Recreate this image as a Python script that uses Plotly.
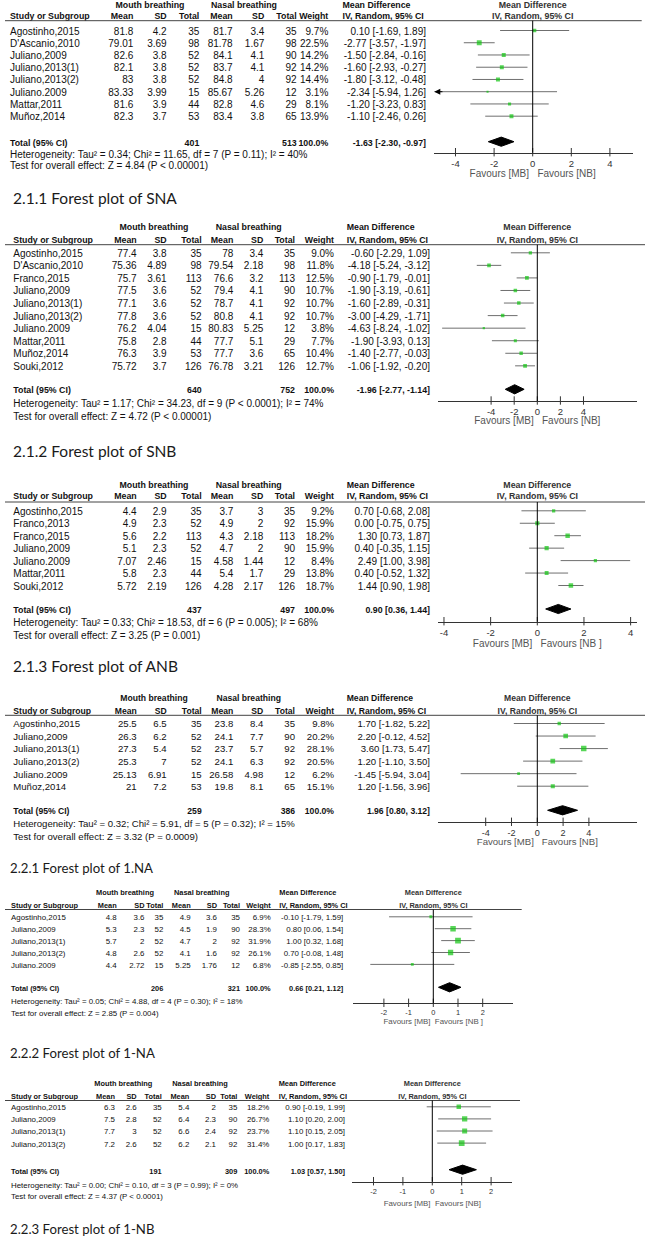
import math
import plotly.graph_objects as go

W, H = 649, 1240

# ---------------- DATA ----------------
# 2.1.1 SNA
SNA_STUDY = ["Agostinho,2015", "D'Ascanio,2010", "Juliano,2009", "Juliano,2013(1)", "Juliano,2013(2)",
             "Juliano.2009", "Mattar,2011", "Muñoz,2014"]
SNA_MB_MEAN = [81.8, 79.01, 82.6, 82.1, 83, 83.33, 81.6, 82.3]
SNA_MB_SD = [4.2, 3.69, 3.8, 3.8, 3.8, 3.99, 3.9, 3.7]
SNA_MB_N = [35, 98, 52, 52, 52, 15, 44, 53]
SNA_NB_MEAN = [81.7, 81.78, 84.1, 83.7, 84.8, 85.67, 82.8, 83.4]
SNA_NB_SD = [3.4, 1.67, 4.1, 4.1, 4, 5.26, 4.6, 3.8]
SNA_NB_N = [35, 98, 90, 92, 92, 12, 29, 65]
SNA_WEIGHT = [9.7, 22.5, 14.2, 14.2, 14.4, 3.1, 8.1, 13.9]
SNA_MD = [0.10, -2.77, -1.50, -1.60, -1.80, -2.34, -1.20, -1.10]
SNA_LO = [-1.69, -3.57, -2.84, -2.93, -3.12, -5.94, -3.23, -2.46]
SNA_HI = [1.89, -1.97, -0.16, -0.27, -0.48, 1.26, 0.83, 0.26]
SNA_TOTAL_N = [401, 513]
SNA_TOTAL_MD = [-1.63, -2.30, -0.97]
SNA_HET = "Heterogeneity: Tau² = 0.34; Chi² = 11.65, df = 7 (P = 0.11); I² = 40%"
SNA_TEST = "Test for overall effect: Z = 4.84 (P < 0.00001)"
SNA_TICKS = [-4, -2, 0, 2, 4]
SNA_FAV = "Favours [MB]   Favours [NB]"
SNA_TITLE = "2.1.1 Forest plot of SNA"

# 2.1.2 SNB
SNB_STUDY = ["Agostinho,2015", "D'Ascanio,2010", "Franco,2015", "Juliano,2009", "Juliano,2013(1)",
             "Juliano,2013(2)", "Juliano.2009", "Mattar,2011", "Muñoz,2014", "Souki,2012"]
SNB_MB_MEAN = [77.4, 75.36, 75.7, 77.5, 77.1, 77.8, 76.2, 75.8, 76.3, 75.72]
SNB_MB_SD = [3.8, 4.89, 3.61, 3.6, 3.6, 3.6, 4.04, 2.8, 3.9, 3.7]
SNB_MB_N = [35, 98, 113, 52, 52, 52, 15, 44, 53, 126]
SNB_NB_MEAN = [78, 79.54, 76.6, 79.4, 78.7, 80.8, 80.83, 77.7, 77.7, 76.78]
SNB_NB_SD = [3.4, 2.18, 3.2, 4.1, 4.1, 4.1, 5.25, 5.1, 3.6, 3.21]
SNB_NB_N = [35, 98, 113, 90, 92, 92, 12, 29, 65, 126]
SNB_WEIGHT = [9.0, 11.8, 12.5, 10.7, 10.7, 10.7, 3.8, 7.7, 10.4, 12.7]
SNB_MD = [-0.60, -4.18, -0.90, -1.90, -1.60, -3.00, -4.63, -1.90, -1.40, -1.06]
SNB_LO = [-2.29, -5.24, -1.79, -3.19, -2.89, -4.29, -8.24, -3.93, -2.77, -1.92]
SNB_HI = [1.09, -3.12, -0.01, -0.61, -0.31, -1.71, -1.02, 0.13, -0.03, -0.20]
SNB_TOTAL_N = [640, 752]
SNB_TOTAL_MD = [-1.96, -2.77, -1.14]
SNB_HET = "Heterogeneity: Tau² = 1.17; Chi² = 34.23, df = 9 (P < 0.0001); I² = 74%"
SNB_TEST = "Test for overall effect: Z = 4.72 (P < 0.00001)"
SNB_TICKS = [-4, -2, 0, 2, 4]
SNB_FAV = "Favours [MB]   Favours [NB]"
SNB_TITLE = "2.1.2 Forest plot of SNB"

# 2.1.3 ANB
ANB_STUDY = ["Agostinho,2015", "Franco,2013", "Franco,2015", "Juliano,2009", "Juliano.2009",
             "Mattar,2011", "Souki,2012"]
ANB_MB_MEAN = [4.4, 4.9, 5.6, 5.1, 7.07, 5.8, 5.72]
ANB_MB_SD = [2.9, 2.3, 2.2, 2.3, 2.46, 2.3, 2.19]
ANB_MB_N = [35, 52, 113, 52, 15, 44, 126]
ANB_NB_MEAN = [3.7, 4.9, 4.3, 4.7, 4.58, 5.4, 4.28]
ANB_NB_SD = [3, 2, 2.18, 2, 1.44, 1.7, 2.17]
ANB_NB_N = [35, 92, 113, 90, 12, 29, 126]
ANB_WEIGHT = [9.2, 15.9, 18.2, 15.9, 8.4, 13.8, 18.7]
ANB_MD = [0.70, 0.00, 1.30, 0.40, 2.49, 0.40, 1.44]
ANB_LO = [-0.68, -0.75, 0.73, -0.35, 1.00, -0.52, 0.90]
ANB_HI = [2.08, 0.75, 1.87, 1.15, 3.98, 1.32, 1.98]
ANB_TOTAL_N = [437, 497]
ANB_TOTAL_MD = [0.90, 0.36, 1.44]
ANB_HET = "Heterogeneity: Tau² = 0.33; Chi² = 18.53, df = 6 (P = 0.005); I² = 68%"
ANB_TEST = "Test for overall effect: Z = 3.25 (P = 0.001)"
ANB_TICKS = [-4, -2, 0, 2, 4]
ANB_FAV = "Favours [MB]   Favours [NB ]"
ANB_TITLE = "2.1.3 Forest plot of ANB"

# 2.2.1 1.NA
NA1_STUDY = ["Agostinho,2015", "Juliano,2009", "Juliano,2013(1)", "Juliano,2013(2)", "Juliano.2009", "Muñoz,2014"]
NA1_MB_MEAN = [25.5, 26.3, 27.3, 25.3, 25.13, 21]
NA1_MB_SD = [6.5, 6.2, 5.4, 7, 6.91, 7.2]
NA1_MB_N = [35, 52, 52, 52, 15, 53]
NA1_NB_MEAN = [23.8, 24.1, 23.7, 24.1, 26.58, 19.8]
NA1_NB_SD = [8.4, 7.7, 5.7, 6.3, 4.98, 8.1]
NA1_NB_N = [35, 90, 92, 92, 12, 65]
NA1_WEIGHT = [9.8, 20.2, 28.1, 20.5, 6.2, 15.1]
NA1_MD = [1.70, 2.20, 3.60, 1.20, -1.45, 1.20]
NA1_LO = [-1.82, -0.12, 1.73, -1.10, -5.94, -1.56]
NA1_HI = [5.22, 4.52, 5.47, 3.50, 3.04, 3.96]
NA1_TOTAL_N = [259, 386]
NA1_TOTAL_MD = [1.96, 0.80, 3.12]
NA1_HET = "Heterogeneity: Tau² = 0.32; Chi² = 5.91, df = 5 (P = 0.32); I² = 15%"
NA1_TEST = "Test for overall effect: Z = 3.32 (P = 0.0009)"
NA1_TICKS = [-4, -2, 0, 2, 4]
NA1_FAV = "Favours [MB]   Favours [NB]"
NA1_TITLE = "2.2.1 Forest plot of 1.NA"

# 2.2.2 1-NA
NA2_STUDY = ["Agostinho,2015", "Juliano,2009", "Juliano,2013(1)", "Juliano,2013(2)", "Juliano.2009"]
NA2_MB_MEAN = [4.8, 5.3, 5.7, 4.8, 4.4]
NA2_MB_SD = [3.6, 2.3, 2, 2.6, 2.72]
NA2_MB_N = [35, 52, 52, 52, 15]
NA2_NB_MEAN = [4.9, 4.5, 4.7, 4.1, 5.25]
NA2_NB_SD = [3.6, 1.9, 2, 1.6, 1.76]
NA2_NB_N = [35, 90, 92, 92, 12]
NA2_WEIGHT = [6.9, 28.3, 31.9, 26.1, 6.8]
NA2_MD = [-0.10, 0.80, 1.00, 0.70, -0.85]
NA2_LO = [-1.79, 0.06, 0.32, -0.08, -2.55]
NA2_HI = [1.59, 1.54, 1.68, 1.48, 0.85]
NA2_TOTAL_N = [206, 321]
NA2_TOTAL_MD = [0.66, 0.21, 1.12]
NA2_HET = "Heterogeneity: Tau² = 0.05; Chi² = 4.88, df = 4 (P = 0.30); I² = 18%"
NA2_TEST = "Test for overall effect: Z = 2.85 (P = 0.004)"
NA2_TICKS = [-2, -1, 0, 1, 2]
NA2_FAV = "Favours [MB]  Favours [NB ]"
NA2_TITLE = "2.2.2 Forest plot of 1-NA"

# 2.2.3 1-NB
NB1_STUDY = ["Agostinho,2015", "Juliano,2009", "Juliano,2013(1)", "Juliano,2013(2)"]
NB1_MB_MEAN = [6.3, 7.5, 7.7, 7.2]
NB1_MB_SD = [2.6, 2.8, 3, 2.6]
NB1_MB_N = [35, 52, 52, 52]
NB1_NB_MEAN = [5.4, 6.4, 6.6, 6.2]
NB1_NB_SD = [2, 2.3, 2.4, 2.1]
NB1_NB_N = [35, 90, 92, 92]
NB1_WEIGHT = [18.2, 26.7, 23.7, 31.4]
NB1_MD = [0.90, 1.10, 1.10, 1.00]
NB1_LO = [-0.19, 0.20, 0.15, 0.17]
NB1_HI = [1.99, 2.00, 2.05, 1.83]
NB1_TOTAL_N = [191, 309]
NB1_TOTAL_MD = [1.03, 0.57, 1.50]
NB1_HET = "Heterogeneity: Tau² = 0.00; Chi² = 0.10, df = 3 (P = 0.99); I² = 0%"
NB1_TEST = "Test for overall effect: Z = 4.37 (P < 0.0001)"
NB1_TICKS = [-2, -1, 0, 1, 2]
NB1_FAV = "Favours [MB]  Favours [NB]"
NB1_TITLE = "2.2.3 Forest plot of 1-NB"

HEADERS = ["Mean", "SD", "Total", "Mean", "SD", "Total", "Weight"]


def panel(prefix):
    g = globals()
    keys = ["STUDY", "MB_MEAN", "MB_SD", "MB_N", "NB_MEAN", "NB_SD", "NB_N", "WEIGHT", "MD", "LO", "HI",
            "TOTAL_N", "TOTAL_MD", "HET", "TEST", "TICKS", "FAV", "TITLE"]
    return {k.lower(): g[prefix + "_" + k] for k in keys}


PANELS = [panel(p) for p in ["SNA", "SNB", "ANB", "NA1", "NA2", "NB1"]]

# ---------------- LAYOUT (pixel positions / styles) ----------------
WIDE = dict(name=13.3, m1=136.7, sd1=166.7, n1=201.7, m2=233.3, sd2=263.3, n2=295, wt=334,
            md=430, mdh=346.7, g1=154, g2=248.7)
NARROW = dict(name=11, m1=116.7, sd1=144.5, n1=163.3, m2=190.7, sd2=217, n2=240, wt=270.7,
              md=343.3, mdh=279.3, g1=125, g2=201.7)
NARROW2 = dict(name=11, m1=115, sd1=136.7, n1=161.7, m2=189.3, sd2=216, n2=237.3, wt=269.3,
               md=345, mdh=278.7, g1=123.3, g2=200)
P1COLS = dict(name=10, m1=133.3, sd1=166.7, n1=199.3, m2=232.7, sd2=264.3, n2=296.7, wt=328.3,
              md=426, mdh=342.5, g1=150, g2=244)

FAM = "Liberation Sans, Arial, sans-serif"
LAYOUTS = [
    dict(cols=P1COLS, grp=5.5, hdr=17.3, line=20.7, linex1=641.7, row0=32, step=12.24,
         total=143.7, het=155, test=166, axis=152.7, fav=174, zero=532.7, unit=19.3, x0=434.3, x1=632.7,
         title_y=200, title_x=13, title_size=15.5, font=10, bold=8.8),
    dict(cols=WIDE, grp=228.3, hdr=241, line=244.7, linex1=645, row0=254.3, step=12.56,
         total=391.3, het=404.3, test=417.3, axis=401, fav=421.7, zero=537.3, unit=11.55, x0=438.3, x1=636.7,
         title_y=453.3, title_x=13, title_size=15.5, font=10, bold=8.8),
    dict(cols=WIDE, grp=486, hdr=497.3, line=502, linex1=645, row0=512.3, step=12.45,
         total=611, het=623.3, test=636, axis=621.7, fav=644, zero=537.3, unit=23.33, x0=438.3, x1=636.7,
         title_y=668.3, title_x=13, title_size=15.5, font=10, bold=8.8),
    dict(cols=WIDE, grp=699.3, hdr=711.7, line=715.3, linex1=645, row0=725, step=12.54,
         total=812.3, het=825, test=837.3, axis=822.3, fav=842.7, zero=537.3, unit=12.9, x0=438.3, x1=636.7,
         title_y=870, title_x=10, title_size=13.2, font=9.6, bold=8.6),
    dict(cols=NARROW, grp=893.3, hdr=906, line=909.5, linex1=521.7, row0=918.3, step=11.9,
         total=989.3, het=1001.7, test=1014, axis=1003.3, fav=1021.7, zero=433.3, unit=24.7, x0=353.3, x1=513.3,
         title_y=1055, title_x=10, title_size=13.2, font=7.9, bold=7.4),
    dict(cols=NARROW2, grp=1084, hdr=1097.3, line=1100.5, linex1=520, row0=1108.3, step=12.1,
         total=1171.7, het=1185.7, test=1197.3, axis=1181.7, fav=1204, zero=432.3, unit=29.4, x0=351.7, x1=511.7,
         title_y=1230.7, title_x=10, title_size=13.2, font=7.9, bold=7.4),
]

TXT = "#111111"
GREEN = "#11c511"
CI_COL = "#6f6f6f"
AXIS_COL = "#333333"
POS = {"l": "middle right", "r": "middle left", "c": "middle center"}


def fmt(v):
    return str(v) if isinstance(v, int) else f"{v:g}"


def ci_text(v):
    return f"{v[0]:.2f} [{v[1]:.2f}, {v[2]:.2f}]"


fig = go.Figure()
shapes = []
annotations = []
layout_axes = {}

for i, (p, L) in enumerate(zip(PANELS, LAYOUTS)):
    c = L["cols"]
    n = len(p["study"])
    rows = [L["row0"] + k * L["step"] for k in range(n)]
    ax_name = f"x{i + 2}"
    rmin = (L["x0"] - L["zero"]) / L["unit"]
    rmax = (L["x1"] - L["zero"]) / L["unit"]

    # items: (align, bold, x, y, text, color)
    items = []
    items.append(("l", True, c["name"], L["hdr"], "Study or Subgroup", TXT))
    items.append(("l", True, c["mdh"], L["grp"], "Mean Difference", TXT))
    items.append(("l", True, c["mdh"], L["hdr"], "IV, Random, 95% CI", TXT))
    items.append(("l", True, c["name"], L["total"], "Total (95% CI)", TXT))
    items.append(("l", False, c["name"], L["het"], p["het"], TXT))
    items.append(("l", False, c["name"], L["test"], p["test"], TXT))
    colkeys = ["m1", "sd1", "n1", "m2", "sd2", "n2", "wt"]
    for h, ck in zip(HEADERS, colkeys):
        items.append(("r", True, c[ck], L["hdr"], h, TXT))
    series = [p["mb_mean"], p["mb_sd"], p["mb_n"], p["nb_mean"], p["nb_sd"], p["nb_n"]]
    for k in range(n):
        items.append(("l", False, c["name"], rows[k], p["study"][k], TXT))
        for ck, s in zip(colkeys[:6], series):
            items.append(("r", False, c[ck], rows[k], fmt(s[k]), TXT))
        items.append(("r", False, c["wt"], rows[k], f"{p['weight'][k]:.1f}%", TXT))
        items.append(("r", False, c["md"], rows[k], ci_text([p["md"][k], p["lo"][k], p["hi"][k]]), TXT))
    items.append(("r", True, c["n1"], L["total"], str(p["total_n"][0]), TXT))
    items.append(("r", True, c["n2"], L["total"], str(p["total_n"][1]), TXT))
    items.append(("r", True, c["wt"], L["total"], "100.0%", TXT))
    items.append(("r", True, c["md"], L["total"], ci_text(p["total_md"]), TXT))
    items.append(("c", True, c["g1"], L["grp"], "Mouth breathing", TXT))
    items.append(("c", True, c["g2"], L["grp"], "Nasal breathing", TXT))
    items.append(("c", True, L["zero"], L["grp"], "Mean Difference", "#333333"))
    items.append(("c", True, L["zero"], L["hdr"], "IV, Random, 95% CI", "#333333"))
    items.append(("c", False, L["zero"], L["fav"], p["fav"], "#555555"))

    for al in ["l", "r", "c"]:
        for bd in [False, True]:
            sel = [it for it in items if it[0] == al and it[1] == bd]
            if not sel:
                continue
            fig.add_trace(go.Scatter(
                x=[s[2] for s in sel], y=[s[3] for s in sel],
                text=[f"<b>{s[4]}</b>" if bd else s[4] for s in sel],
                mode="text", textposition=POS[al],
                textfont=dict(family=FAM, size=L["bold"] if bd else L["font"], color=[s[5] for s in sel]),
                marker=dict(size=0), hoverinfo="skip", showlegend=False, xaxis="x", yaxis="y"))
    # title
    fig.add_trace(go.Scatter(x=[L["title_x"]], y=[L["title_y"]], text=[p["title"]], mode="text",
                             textposition="middle right", marker=dict(size=0),
                             textfont=dict(family="Lato, Open Sans, sans-serif", size=L["title_size"],
                                           color="#1a1a1a"),
                             hoverinfo="skip", showlegend=False, xaxis="x", yaxis="y"))

    # header rule
    shapes.append(dict(type="line", xref="x", yref="y", x0=5, x1=L["linex1"], y0=L["line"], y1=L["line"],
                       line=dict(color="#444444", width=1)))
    # zero line
    shapes.append(dict(type="line", xref=ax_name, yref="y", x0=0, x1=0, y0=L["line"], y1=L["axis"],
                       line=dict(color="#000000", width=1)))

    # ---- forest marks ----
    cx, cy = [], []
    for k in range(n):
        cx += [max(p["lo"][k], rmin), min(p["hi"][k], rmax), None]
        cy += [rows[k] - 1.5, rows[k] - 1.5, None]
        if p["lo"][k] < rmin:
            annotations.append(dict(x=rmin, y=rows[k] - 1.5, xref=ax_name, yref="y",
                                    ax=rmin + 0.5, ay=rows[k] - 1.5,
                                    axref=ax_name, ayref="y", showarrow=True, arrowhead=2,
                                    arrowsize=1.2, arrowwidth=1, arrowcolor="#000000", text=""))
    fig.add_trace(go.Scatter(x=cx, y=cy, mode="lines", line=dict(color=CI_COL, width=1),
                             hoverinfo="skip", showlegend=False, xaxis=ax_name, yaxis="y"))
    fig.add_trace(go.Scatter(x=p["md"], y=[r - 1.5 for r in rows], mode="markers",
                             marker=dict(symbol="square", color=GREEN,
                                         size=[0.95 * math.sqrt(w) + 0.4 for w in p["weight"]],
                                         line=dict(width=0)),
                             hoverinfo="skip", showlegend=False, xaxis=ax_name, yaxis="y"))
    tm = p["total_md"]
    ty = L["total"] - 2
    hh = 4.6
    fig.add_trace(go.Scatter(x=[tm[1], tm[0], tm[2], tm[0], tm[1]], y=[ty, ty - hh, ty, ty + hh, ty],
                             mode="lines", fill="toself", fillcolor="#000000",
                             line=dict(color="#000000", width=1),
                             hoverinfo="skip", showlegend=False, xaxis=ax_name, yaxis="y"))
    # tick marks crossing the axis
    fig.add_trace(go.Scatter(x=p["ticks"], y=[L["axis"] - 0.5] * len(p["ticks"]), mode="markers",
                             marker=dict(symbol="line-ns", size=6, line=dict(color=AXIS_COL, width=1)),
                             hoverinfo="skip", showlegend=False, xaxis=ax_name, yaxis="y"))

    layout_axes["xaxis" + str(i + 2)] = dict(
        domain=[L["x0"] / W, L["x1"] / W], range=[rmin, rmax], anchor="free",
        position=1 - L["axis"] / H, showline=True, linecolor=AXIS_COL, linewidth=1,
        showgrid=False, zeroline=False, ticks="", tickvals=p["ticks"],
        ticktext=[str(t) for t in p["ticks"]], ticklabelstandoff=2,
        tickfont=dict(family=FAM, size=L["font"] - 0.5, color="#333333"), fixedrange=True)

fig.update_layout(
    width=W, height=H, margin=dict(l=0, r=0, t=0, b=0),
    paper_bgcolor="white", plot_bgcolor="rgba(0,0,0,0)",
    xaxis=dict(domain=[0, 1], range=[0, W], visible=False, fixedrange=True),
    yaxis=dict(domain=[0, 1], range=[H, 0], visible=False, fixedrange=True),
    shapes=shapes, annotations=annotations, showlegend=False,
    **layout_axes,
)

fig.write_html("out.html", config={"displayModeBar": False},
               post_script="document.body.style.margin='0';document.body.style.overflow='hidden';")
